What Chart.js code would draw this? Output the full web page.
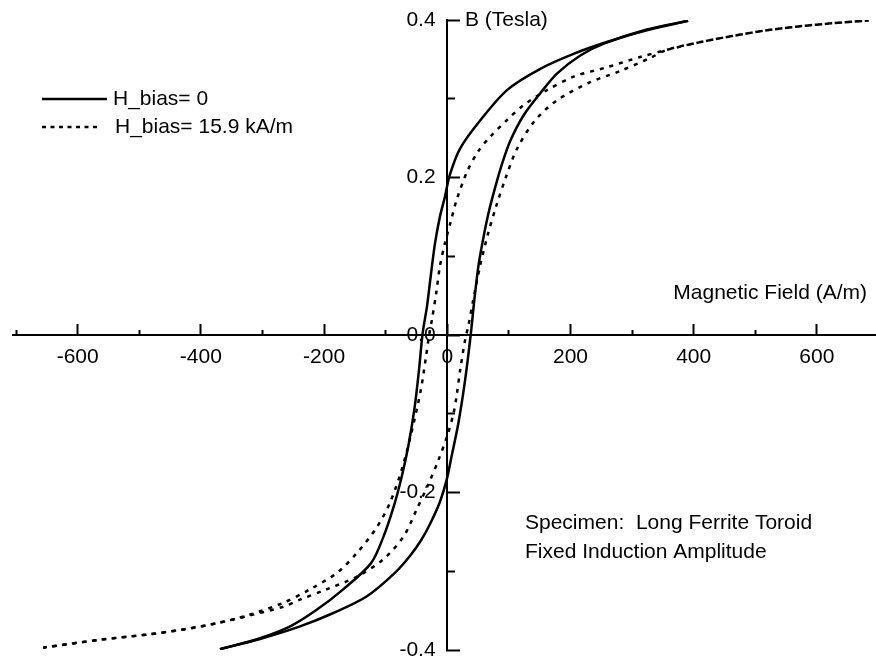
<!DOCTYPE html>
<html>
<head>
<meta charset="utf-8">
<script src="https://cdn.jsdelivr.net/npm/chart.js@4.4.1/dist/chart.umd.min.js"></script>
<style>
  body { margin: 0; background: #fff; }
  canvas { display: block; }
</style>
</head>
<body>
<canvas id="loop_chart" width="876" height="662"></canvas>
<script>
// B-H loops (H in A/m, B in Tesla)
const seriesNames = ['H_bias= 0', 'H_bias= 15.9 kA/m'];

const solidDownH = [391, 324, 259, 205, 151, 97, 53, 21, 4, -4, -12, -20, -27, -33, -40, -46, -53, -63, -74, -87, -104, -124, -169, -212, -255, -304, -369];
const solidDownB = [0.399, 0.387, 0.372, 0.357, 0.338, 0.311, 0.272, 0.237, 0.203, 0.175, 0.150, 0.116, 0.074, 0.036, 0.002, -0.045, -0.092, -0.140, -0.180, -0.218, -0.257, -0.290, -0.323, -0.349, -0.370, -0.385, -0.399];
const solidUpH = [-369, -304, -239, -185, -131, -85, -60, -42, -28, -12, -1, 7, 18, 29, 38, 44, 51, 59, 67, 78, 88, 102, 124, 151, 178, 216, 254, 324, 391];
const solidUpB = [-0.399, -0.386, -0.370, -0.353, -0.332, -0.302, -0.280, -0.260, -0.240, -0.212, -0.184, -0.154, -0.112, -0.057, 0.000, 0.045, 0.090, 0.125, 0.155, 0.188, 0.215, 0.246, 0.279, 0.307, 0.332, 0.355, 0.370, 0.388, 0.399];

const dotDownH = [684, 627, 573, 519, 465, 411, 356, 313, 259, 205, 162, 124, 97, 70, 50, 32, 15, 5, -4, -12, -18, -25, -29, -35, -43, -60, -74, -93, -115, -147, -179, -223, -266, -320, -374, -429, -483, -564, -656];
const dotDownB = [0.3995, 0.396, 0.392, 0.387, 0.380, 0.372, 0.362, 0.353, 0.340, 0.328, 0.311, 0.292, 0.273, 0.252, 0.233, 0.207, 0.171, 0.142, 0.116, 0.087, 0.053, 0.019, 0.002, -0.030, -0.070, -0.130, -0.171, -0.213, -0.245, -0.277, -0.302, -0.323, -0.340, -0.355, -0.366, -0.374, -0.380, -0.387, -0.397];
const dotUpH = [-656, -564, -483, -429, -374, -320, -266, -239, -196, -147, -104, -71, -50, -31, -15, 0, 10, 15, 21, 29, 34, 42, 53, 66, 80, 95, 113, 142, 178, 232, 280, 330, 356, 411, 465, 519, 573, 627, 684];
const dotUpB = [-0.397, -0.387, -0.380, -0.374, -0.366, -0.356, -0.345, -0.336, -0.323, -0.307, -0.285, -0.256, -0.222, -0.190, -0.160, -0.128, -0.100, -0.078, -0.044, -0.006, 0.011, 0.044, 0.087, 0.128, 0.165, 0.200, 0.236, 0.272, 0.298, 0.321, 0.335, 0.352, 0.362, 0.372, 0.380, 0.387, 0.392, 0.396, 0.3995];

const xTickValues = [-600, -400, -200, 0, 200, 400, 600];
const xMinorValues = [-700, -500, -300, -100, 100, 300, 500];
const yTickValues = [-0.4, -0.2, 0, 0.2, 0.4];
const yMinorValues = [-0.3, -0.1, 0.1, 0.3];

const xTitle = 'Magnetic Field (A/m)';
const yTitle = 'B (Tesla)';
const noteLines = ['Specimen:  Long Ferrite Toroid', 'Fixed Induction Amplitude'];

const FONT = '"Liberation Sans", Arial, sans-serif';
Chart.defaults.font.family = FONT;
Chart.defaults.font.size = 21;
Chart.defaults.color = '#000';

function pts(hs, bs) {
    return hs.map((h, i) => ({x: h, y: bs[i]}));
}

const solidStyle = {borderColor: '#000', borderWidth: 2.5, borderDash: []};
const dotStyle = {borderColor: '#000', borderWidth: 2.5, borderDash: [4, 6]};

function line(data, style, name) {
    return Object.assign({
        data: data, label: name, showLine: true, fill: false,
        pointRadius: 0, tension: 0.3
    }, style);
}

// fixed ticks and no space taken by the crossing axes
function fixTicks(values) {
    return s => { s.ticks = values.map(v => ({value: v})); };
}
function noSpace(s) {
    s.width = s.isHorizontal() ? s.width : 0;
    s.height = s.isHorizontal() ? 0 : s.height;
    s.paddingLeft = 0; s.paddingRight = 0; s.paddingTop = 0; s.paddingBottom = 0;
}

const axisX = (values, len, showLabels) => ({
    type: 'linear', axis: 'x', position: {y: 0}, min: -705, max: 696,
    afterBuildTicks: fixTicks(values), afterFit: noSpace,
    grid: {drawOnChartArea: false, drawTicks: true, tickLength: len, tickWidth: 2, tickColor: '#000'},
    border: {display: true, color: '#000', width: 2},
    ticks: {display: showLabels, padding: 22, maxRotation: 0, autoSkip: false, callback: v => String(v)}
});
const axisY = (values, len, showLabels) => ({
    type: 'linear', axis: 'y', position: {x: 0}, min: -0.4, max: 0.4,
    afterBuildTicks: fixTicks(values), afterFit: noSpace,
    grid: {drawOnChartArea: false, drawTicks: true, tickLength: len, tickWidth: 2, tickColor: '#000'},
    border: {display: true, color: '#000', width: 2},
    ticks: {display: showLabels, padding: 0, autoSkip: false, callback: v => v.toFixed(1) + '  '}
});

const textPlugin = {
    id: 'texts',
    afterDraw(chart) {
        const ctx = chart.ctx;
        ctx.save();
        ctx.fillStyle = '#000';
        ctx.font = '21px ' + FONT;
        ctx.textBaseline = 'middle';
        ctx.textAlign = 'right';
        ctx.fillText(xTitle, 867, 293);
        ctx.textAlign = 'left';
        ctx.fillText(yTitle, 465, 20);
        ctx.fillText(noteLines[0], 525, 523);
        ctx.fillText(noteLines[1], 525, 552);

        // legend
        const styles = [solidStyle, dotStyle];
        const rows = [{y: 99, x2: 107, tx: 113}, {y: 127, x2: 97, tx: 115}];
        rows.forEach((r, i) => {
            ctx.strokeStyle = styles[i].borderColor;
            ctx.lineWidth = styles[i].borderWidth;
            ctx.setLineDash(i ? [4, 4.5] : []);
            ctx.beginPath();
            ctx.moveTo(42, r.y);
            ctx.lineTo(r.x2, r.y);
            ctx.stroke();
            ctx.setLineDash([]);
            ctx.fillText(seriesNames[i], r.tx, r.y);
        });
        ctx.restore();
    }
};

new Chart(document.getElementById('loop_chart'), {
    type: 'scatter',
    data: {
        datasets: [
            line(pts(solidDownH, solidDownB), solidStyle, seriesNames[0]),
            line(pts(solidUpH, solidUpB), solidStyle, seriesNames[0]),
            line(pts(dotDownH, dotDownB), dotStyle, seriesNames[1]),
            line(pts(dotUpH, dotUpB), dotStyle, seriesNames[1])
        ]
    },
    options: {
        responsive: false,
        animation: false,
        layout: {padding: {left: 13, right: 0, top: 20, bottom: 12}},
        plugins: {legend: {display: false}, tooltip: {enabled: false}},
        scales: {
            x: axisX(xTickValues, -12, true),
            x2: axisX(xMinorValues, -6, false),
            y: axisY(yTickValues, -14, true),
            y2: axisY(yMinorValues, -9, false)
        }
    },
    plugins: [textPlugin]
});
</script>
</body>
</html>
